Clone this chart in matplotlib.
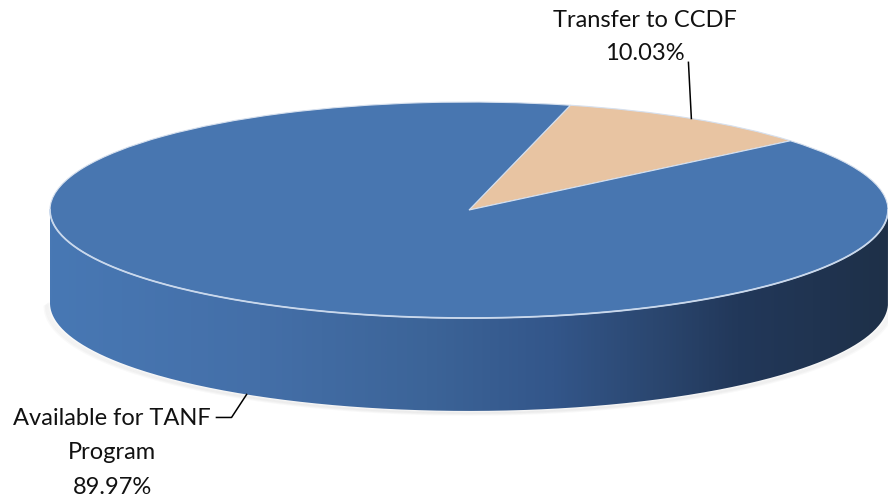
import numpy as np
import matplotlib.pyplot as plt
from matplotlib.path import Path
from matplotlib.patches import PathPatch
from matplotlib.colors import LinearSegmentedColormap

labels = ['Transfer to CCDF', 'Available for TANF\nProgram']
shares = [10.03, 89.97]
colors = ['#e8c4a2', '#4876b0']

DEPTH = 0.86
plt.rcParams['font.family'] = ['Lato', 'DejaVu Sans']

def side_patch(ax):
    t = np.linspace(np.pi, 2 * np.pi, 300)
    xs = np.cos(t)
    top = np.sin(t)
    bot = top - DEPTH
    verts = np.concatenate([np.c_[xs, top], np.c_[xs[::-1], bot[::-1]]])
    patch = PathPatch(Path(verts), facecolor='none', edgecolor='none')
    ax.add_patch(patch)

    # soft shadow under the rim
    for k in range(1, 5):
        ax.plot(xs * (1 + 0.003 * k), bot - 0.008 * k, color='#909090',
                alpha=0.05, lw=2, solid_capstyle='round', zorder=0)

    # shading along the side, light on the left, dark navy on the right
    stops = [(0.0, '#4878b4'), (0.25, '#446fa8'), (0.45, '#3c6498'),
             (0.6, '#33568a'), (0.72, '#2b4770'), (0.82, '#22385a'),
             (1.0, '#1e3048')]
    cmap = LinearSegmentedColormap.from_list('side', stops)
    grad = np.linspace(0, 1, 512).reshape(1, -1)
    im = ax.imshow(grad, cmap=cmap, extent=(-1, 1, -1 - DEPTH, 0),
                   aspect='auto', zorder=1)
    im.set_clip_path(patch)

    ax.plot(xs, top, color='#c9d8ec', lw=1.3, zorder=3)


def main():
    fig = plt.figure(figsize=(8.88, 5.02), dpi=100)
    ax = fig.add_axes([0, 0, 1, 1])

    side_patch(ax)

    wedges, _ = ax.pie(shares, colors=colors, startangle=76, counterclock=False,
                       radius=1, wedgeprops=dict(edgecolor='#d6e0ee', linewidth=0.8,
                                                 zorder=2))

    ax.set_aspect('auto')
    ax.set_xlim(-1.1193, 1.0)
    ax.set_ylim(-2.694, 1.954)
    ax.axis('off')

    # label for the small slice, leader to middle of its rim
    w = wedges[0]
    mid = np.deg2rad((w.theta1 + w.theta2) / 2)
    px, py = np.cos(mid), np.sin(mid)
    ax.plot([px, px - 0.007], [py, py + 0.52], color='black', lw=1.1, zorder=4)
    ax.text(0.42, 1.61, labels[0] + '\n' + f'{shares[0]:.2f}%', ha='center',
            va='center', fontsize=17, linespacing=1.7, color='#111111')

    # label for the large slice, leader to its bottom rim
    w = wedges[1]
    mid = np.deg2rad((w.theta1 + w.theta2) / 2)
    px, py = np.cos(mid), np.sin(mid) - DEPTH
    ax.plot([px, px - 0.036, px - 0.072], [py, py - 0.213, py - 0.213],
            color='black', lw=1.1, zorder=4)
    ax.text(-0.852, -2.24, labels[1] + '\n' + f'{shares[1]:.2f}%', ha='center',
            va='center', fontsize=17, linespacing=1.8, color='#111111')

    fig.savefig('out.png', dpi=100)


if __name__ == "__main__":
    main()
